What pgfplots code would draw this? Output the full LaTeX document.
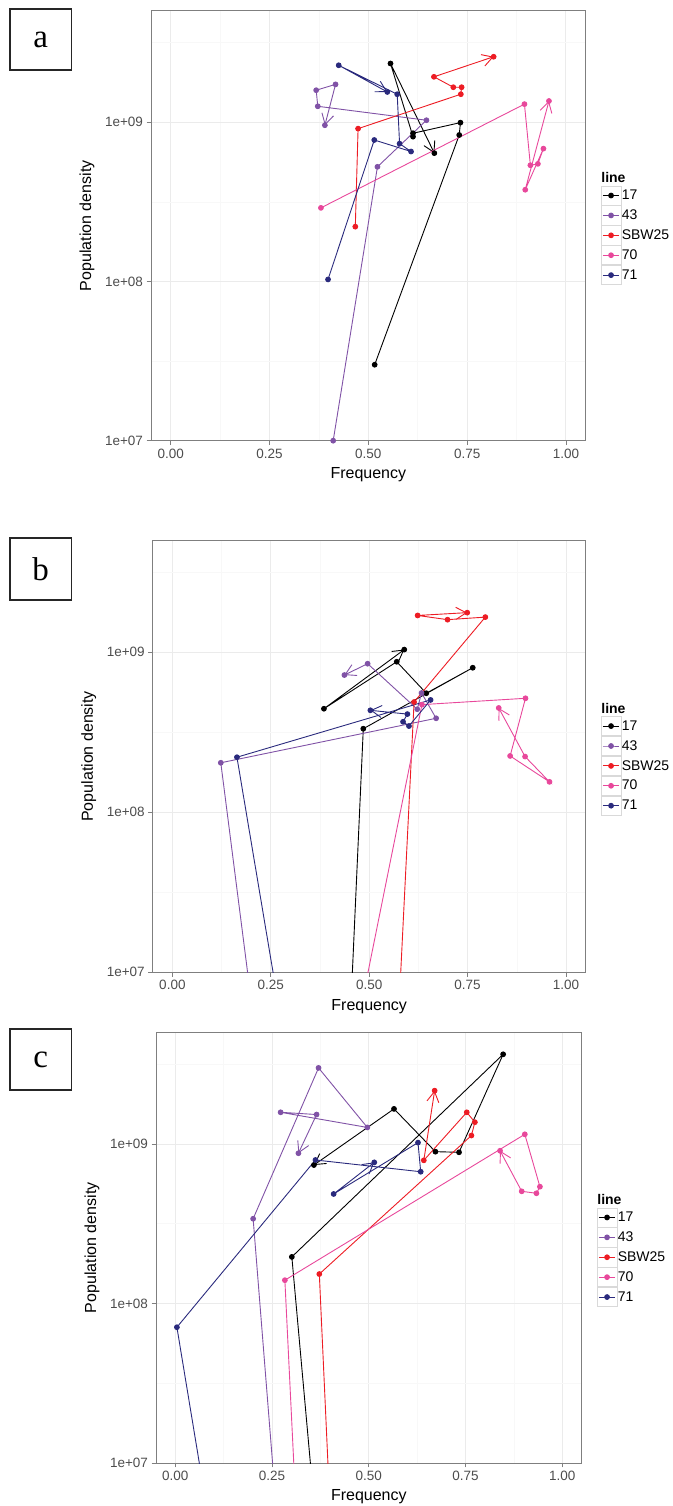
\documentclass[border=0pt]{standalone}
\usepackage{fontspec}
\setmainfont{Liberation Sans}
\newfontfamily\boxfont{Liberation Serif}
\usepackage{pgfplots}
\pgfplotsset{compat=1.18}
\usetikzlibrary{arrows.meta}

\definecolor{c17}{RGB}{0,0,0}
\definecolor{c43}{RGB}{128,82,166}
\definecolor{cSBW}{RGB}{237,28,36}
\definecolor{c70}{RGB}{232,72,155}
\definecolor{c71}{RGB}{42,42,125}
\definecolor{grid90}{RGB}{235,235,235}
\definecolor{grid98}{RGB}{248,248,248}
\definecolor{framegray}{RGB}{127,127,127}
\definecolor{ticktext}{RGB}{77,77,77}

\pgfplotsset{
  myax/.style={
    scale only axis, anchor=south west,
    xmin=-0.05, xmax=1.05, ymin=1e7, ymax=5e9,
    xtick={0,0.25,0.5,0.75,1}, xticklabels={0.00,0.25,0.50,0.75,1.00},
    ytick={1e7,1e8,1e9}, yticklabels={1e+07,1e+08,1e+09},
    minor xtick={0.125,0.375,0.625,0.875},
    minor ytick={3.1623e7,3.1623e8,3.1623e9},
    grid=both,
    major grid style={grid90, line width=0.9pt},
    minor grid style={grid98, line width=0.6pt},
    minor tick length=0pt, major tick length=4.5pt, tick align=outside,
    xtick pos=left, ytick pos=left,
    tick style={framegray, line width=0.8pt},
    axis line style={framegray, line width=1pt},
    ticklabel style={font=\fontsize{13.5}{16}\selectfont, text=ticktext},
    xlabel={Frequency}, ylabel={Population density},
    every axis x label/.style={at={(axis description cs:0.5,0)}, yshift=-34pt, anchor=center, font=\fontsize{16}{19}\selectfont},
    every axis y label/.style={at={(axis description cs:0,0.5)}, xshift=-64pt, rotate=90, anchor=center, font=\fontsize{16}{19}\selectfont},
    legend cell align=left,
  },
  myleg/.style={legend style={name=#1, at={(axis description cs:1,0.5)}, anchor=west,
    xshift=15pt, yshift=-9.5pt, draw=none, fill=none, inner sep=0pt,
    row sep=0pt, column sep=0pt,
    nodes={inner sep=0.6pt, font=\fontsize{14}{16}\selectfont}}},
  myser/.style={color=#1, line width=0.9pt, mark=*, mark size=2.4pt,
    mark options={solid, -, fill=#1, draw=#1},
    -{Straight Barb[angle=60:12pt]}},
  legend image code/.code={
    \draw[black!15, line width=0.7pt, fill=white] (0pt,-9.6pt) rectangle (19.6pt,9.6pt);
    \draw[mark repeat=2, mark phase=2, #1, -] plot coordinates {(1.5pt,0pt) (9.8pt,0pt) (18.1pt,0pt)};
  },
}

\begin{document}
\begin{tikzpicture}
\path[use as bounding box] (0pt,0pt) rectangle (672pt,-1506pt);

% ---------- panel a ----------
\begin{axis}[myax, ymode=log, myleg=legA, width=434.7pt, height=429.7pt, at={(151pt,-440.7pt)}]
\addplot[myser=c17] coordinates {(0.516,3.0e7) (0.730,8.32e8) (0.733,9.95e8) (0.613,8.53e8) (0.613,8.12e8) (0.556,2.34e9) (0.667,6.4e8)};
\addplot[myser=c43] coordinates {(0.411,1.0e7) (0.523,5.25e8) (0.647,1.03e9) (0.372,1.26e9) (0.368,1.59e9) (0.417,1.73e9) (0.390,9.58e8)};
\addplot[myser=cSBW] coordinates {(0.467,2.21e8) (0.474,9.12e8) (0.734,1.50e9) (0.736,1.66e9) (0.715,1.66e9) (0.666,1.93e9) (0.817,2.58e9)};
\addplot[myser=c70] coordinates {(0.380,2.9e8) (0.895,1.30e9) (0.910,5.37e8) (0.929,5.48e8) (0.943,6.83e8) (0.897,3.77e8) (0.957,1.36e9)};
\addplot[myser=c71] coordinates {(0.398,1.03e8) (0.515,7.74e8) (0.608,6.55e8) (0.579,7.34e8) (0.573,1.50e9) (0.425,2.28e9) (0.548,1.55e9)};
\legend{17,43,SBW25,70,71}
\end{axis}
\node[anchor=south west, inner sep=0.5pt, font=\bfseries\fontsize{14}{16}\selectfont] at ([yshift=2pt]legA.north west) {line};
\draw[line width=1.1pt, black!85] (10pt,-9pt) rectangle (71.3pt,-70pt);
\node[font=\boxfont\fontsize{33}{36}\selectfont] at (40.7pt,-39.5pt) {a};

% ---------- panel b ----------
\begin{axis}[myax, ymode=log, myleg=legB, width=433pt, height=431.8pt, at={(152.7pt,-972.3pt)}]
\addplot[myser=c17] coordinates {(0.439,1e6) (0.485,3.33e8) (0.763,8.01e8) (0.645,5.55e8) (0.570,8.73e8) (0.385,4.44e8) (0.589,1.04e9)};
\addplot[myser=c43] coordinates {(0.243,1e6) (0.123,2.04e8) (0.670,3.87e8) (0.633,5.57e8) (0.622,4.41e8) (0.496,8.49e8) (0.437,7.21e8)};
\addplot[myser=cSBW] coordinates {(0.560,1e6) (0.614,4.89e8) (0.795,1.66e9) (0.699,1.60e9) (0.623,1.70e9) (0.749,1.77e9)};
\addplot[myser=c70] coordinates {(0.415,1e6) (0.634,4.71e8) (0.897,5.16e8) (0.858,2.25e8) (0.958,1.55e8) (0.896,2.23e8) (0.829,4.49e8)};
\addplot[myser=c71] coordinates {(0.324,1e6) (0.164,2.21e8) (0.656,5.04e8) (0.601,3.46e8) (0.586,3.68e8) (0.597,4.11e8) (0.503,4.34e8)};
\legend{17,43,SBW25,70,71}
\end{axis}
\node[anchor=south west, inner sep=0.5pt, font=\bfseries\fontsize{14}{16}\selectfont] at ([yshift=2pt]legB.north west) {line};
\draw[line width=1.1pt, black!85] (10pt,-538pt) rectangle (71.3pt,-600pt);
\node[font=\boxfont\fontsize{33}{36}\selectfont] at (40.7pt,-569pt) {b};

% ---------- panel c ----------
\begin{axis}[myax, ymode=log, myleg=legC, width=425.7pt, height=430.5pt, at={(156pt,-1463pt)}]
\addplot[myser=c17] coordinates {(0.386,1e6) (0.301,1.96e8) (0.847,3.65e9) (0.733,8.87e8) (0.672,8.95e8) (0.565,1.66e9) (0.358,7.38e8)};
\addplot[myser=c43] coordinates {(0.284,1e6) (0.201,3.4e8) (0.370,3.0e9) (0.496,1.27e9) (0.272,1.58e9) (0.365,1.53e9) (0.318,8.75e8)};
\addplot[myser=cSBW] coordinates {(0.413,1e6) (0.372,1.53e8) (0.765,1.13e9) (0.774,1.37e9) (0.753,1.58e9) (0.642,7.9e8) (0.670,2.16e9)};
\addplot[myser=c70] coordinates {(0.326,1e6) (0.283,1.40e8) (0.903,1.15e9) (0.942,5.40e8) (0.933,4.91e8) (0.895,5.05e8) (0.839,9.07e8)};
\addplot[myser=c71] coordinates {(0.130,1e6) (0.004,7.1e7) (0.362,7.94e8) (0.634,6.7e8) (0.627,1.02e9) (0.409,4.86e8) (0.514,7.67e8)};
\legend{17,43,SBW25,70,71}
\end{axis}
\node[anchor=south west, inner sep=0.5pt, font=\bfseries\fontsize{14}{16}\selectfont] at ([yshift=2pt]legC.north west) {line};
\draw[line width=1.1pt, black!85] (10pt,-1029pt) rectangle (71.3pt,-1090pt);
\node[font=\boxfont\fontsize{33}{36}\selectfont] at (40.7pt,-1059.5pt) {c};
\end{tikzpicture}
\end{document}
